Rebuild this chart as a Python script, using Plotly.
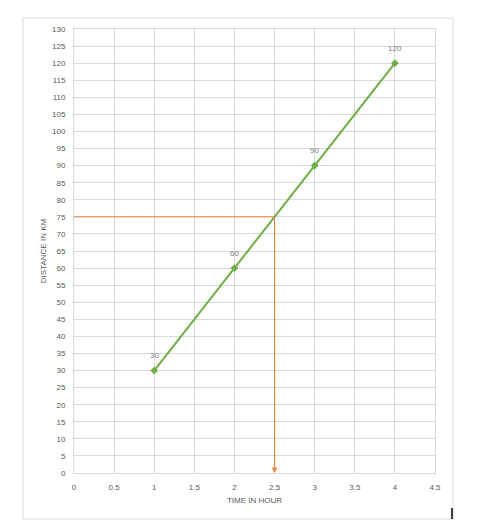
import plotly.graph_objects as go

time_hours = [1, 2, 3, 4]
distance_km = [30, 60, 90, 120]
read_time = 2.5
read_distance = 75
x_ticks = [0, 0.5, 1, 1.5, 2, 2.5, 3, 3.5, 4, 4.5]
y_ticks = list(range(0, 131, 5))

GREEN = "#70ad47"
ORANGE = "#ed7d31"
GRID = "#d9d9d9"
TXT = "#595959"
FONT = "Liberation Sans"

# page offset of the plotly div (body margin)
OFF = 8
W, H = 488 - OFF, 530 - OFF

fig = go.Figure()
fig.add_trace(go.Scatter(
    x=time_hours, y=distance_km, mode="lines+markers",
    line=dict(color=GREEN, width=2),
    marker=dict(symbol="diamond", size=6, color=GREEN),
    showlegend=False, hoverinfo="x+y",
))
for t, d in zip(time_hours, distance_km):
    fig.add_annotation(x=t, y=d, text=str(d), showarrow=False, yshift=15,
                       font=dict(family=FONT, size=8, color="#7f7f7f"))
# horizontal read-off line
fig.add_trace(go.Scatter(
    x=[0, read_time], y=[read_distance, read_distance], mode="lines",
    line=dict(color=ORANGE, width=1), showlegend=False, hoverinfo="skip",
))
# vertical arrow down to the time axis
fig.add_annotation(
    x=read_time, y=0, ax=read_time, ay=read_distance,
    xref="x", yref="y", axref="x", ayref="y",
    showarrow=True, arrowhead=2, arrowsize=1.1, arrowwidth=1,
    arrowcolor=ORANGE, text="", standoff=0,
)

px_l, px_r, px_t, px_b = 74, 435, 29, 473
def px2paper(x, y):
    return (x - px_l) / (px_r - px_l), (px_b - y) / (px_b - px_t)

bx0, by0 = px2paper(23, 519)
bx1, by1 = px2paper(453, 18)
fig.add_shape(type="rect", xref="paper", yref="paper",
              x0=bx0, y0=by0, x1=bx1, y1=by1,
              line=dict(color="#d9d9d9", width=1), layer="below")
cx0, cy0 = px2paper(452, 519)
cx1, cy1 = px2paper(452, 508)
fig.add_shape(type="line", xref="paper", yref="paper",
              x0=cx0, y0=cy0, x1=cx1, y1=cy1,
              line=dict(color="black", width=1.5))

fig.update_layout(
    width=W, height=H,
    margin=dict(l=px_l - OFF, r=W - (px_r - OFF), t=px_t - OFF, b=H - (px_b - OFF)),
    paper_bgcolor="white", plot_bgcolor="white",
    font=dict(family=FONT, size=8, color=TXT),
    xaxis=dict(
        range=[0, 4.5], tickvals=x_ticks, ticktext=[str(t) for t in x_ticks],
        showgrid=True, gridcolor=GRID, gridwidth=1, zeroline=False,
        showline=True, linecolor=GRID, mirror=True, ticks="",
        tickfont=dict(family=FONT, size=8, color=TXT), ticklabelstandoff=6,
        title=dict(text="TIME IN HOUR", font=dict(family=FONT, size=8, color=TXT), standoff=6),
        fixedrange=True,
    ),
    yaxis=dict(
        range=[0, 130], tickvals=y_ticks,
        showgrid=True, gridcolor=GRID, gridwidth=1, zeroline=False,
        showline=True, linecolor=GRID, mirror=True, ticks="",
        tickfont=dict(family=FONT, size=8, color=TXT), ticklabelstandoff=6,
        title=dict(text="DISTANCE IN KM", font=dict(family=FONT, size=8, color=TXT), standoff=4),
        fixedrange=True,
    ),
)

fig.write_html("out.html")
